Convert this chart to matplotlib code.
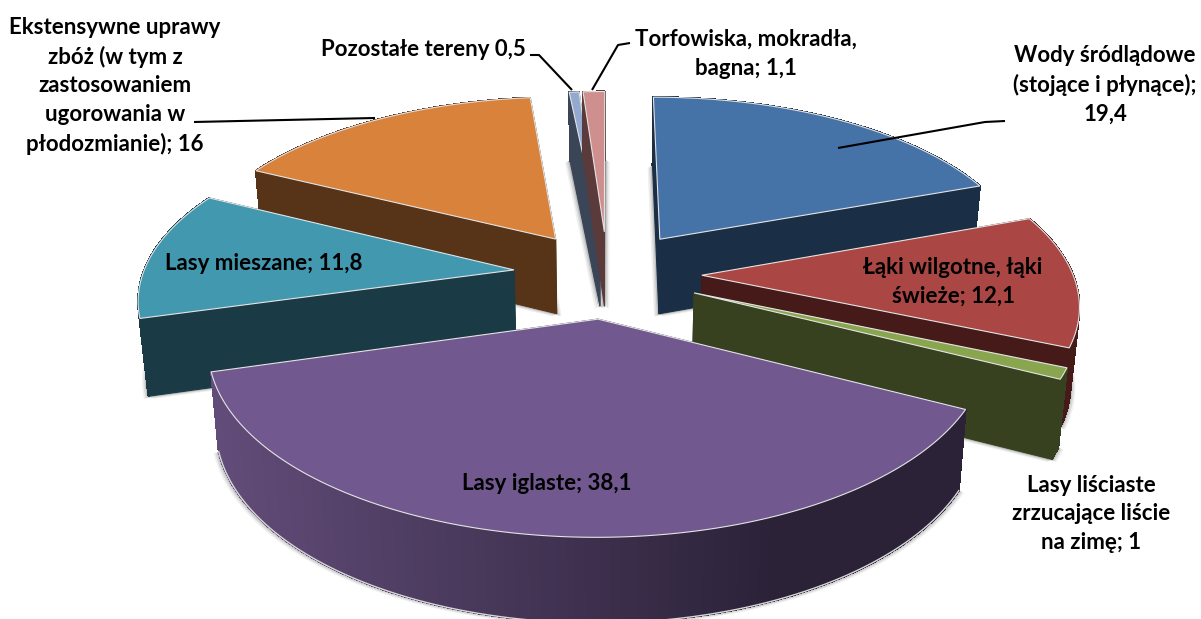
import matplotlib
matplotlib.use("Agg")
import matplotlib.pyplot as plt
import numpy as np
from matplotlib.colors import to_rgb
from matplotlib.patches import Polygon

plt.rcParams["font.family"] = ["Lato", "DejaVu Sans"]

# data, clockwise from 12 o'clock
names = ["Wody", "Laki", "Lisciaste", "Iglaste", "Mieszane", "Zboza", "Pozostale", "Torfowiska"]
values = [19.4, 12.1, 1.0, 38.1, 11.8, 16.0, 0.5, 1.1]
top_colors = ["#4572A7", "#AA4643", "#89A54E", "#71588F", "#4198AF", "#D9823C", "#93A9CF", "#CE8F8E"]
wall_colors = ["#1A2E46", "#451A18", "#374120", "#2B2238", "#1A3B46", "#573318", "#3A4558", "#5A3A3A"]
draw_order = [6, 7, 0, 5, 1, 4, 2, 3]

labels = ["Wody śródlądowe\n(stojące i płynące);\n19,4", "Łąki wilgotne, łąki\nświeże; 12,1",
          "Lasy liściaste\nzrzucające liście\nna zimę; 1", "Lasy iglaste; 38,1", "Lasy mieszane; 11,8",
          "Ekstensywne uprawy\nzbóż (w tym z\nzastosowaniem\nugorowania w\npłodozmianie); 16",
          "Pozostałe tereny 0,5", "Torfowiska, mokradła,\nbagna; 1,1"]
label_xy = [(1105, 85), (953, 282), (1091, 514), (547, 484), (264, 263), (115, 86), (423, 49), (746, 54)]
leaders = [[(1005, 121), (985, 122), (838, 148)], [(194, 122), (375, 118)],
           [(530, 55), (539, 55), (572, 90)], [(630, 43), (618, 45), (592, 90)]]

# pie projection
CX, CY = 607.5, 274
A, B, PERSP = 371, 172, 0.145
EXPLODE = 0.254
DEPTH, DEPTH_P, BOT_SHRINK = 76, 0.09, 0.981


def project(gx, gy, bottom=False):
    w = 1 + PERSP * gy
    sx = A * gx / w
    sy = -B * gy / w
    if bottom:
        return CX + sx * BOT_SHRINK, CY + sy + DEPTH / (1 + DEPTH_P * gy)
    return CX + sx, CY + sy


def slice_geom(start, end):
    mid = (start + end) / 2
    ox, oy = EXPLODE * np.sin(mid), EXPLODE * np.cos(mid)
    th = np.linspace(start, end, max(int((end - start) * 120), 6))
    return ox, oy, ox + np.sin(th), oy + np.cos(th)


def wall_shade(i, x):
    if names[i] != "Iglaste":
        return wall_colors[i]
    # purple rim darkens left to right
    t = np.clip((x - 215) / 560, 0, 1)
    c0, c1 = np.array(to_rgb("#624C79")), np.array(to_rgb(wall_colors[i]))
    return tuple(c0 + (c1 - c0) * t)


fig = plt.figure(figsize=(12.01, 6.19), dpi=100)
ax = fig.add_axes([0, 0, 1, 1])
ax.set_xlim(0, 1201)
ax.set_ylim(619, 0)
ax.axis("off")

edges = np.cumsum([0] + values) / sum(values) * 2 * np.pi
geoms = [slice_geom(edges[i], edges[i + 1]) for i in range(len(values))]

# soft shadow of the base on the paper, behind everything
for off, grey in [(4.5, "#EFEFEF"), (3, "#DADADA"), (1.5, "#BDBDBD")]:
    for ox, oy, gx, gy in geoms:
        bx, by = project(np.r_[ox, gx], np.r_[oy, gy], bottom=True)
        for dx in (-off, off):
            ax.add_patch(Polygon(np.c_[bx + dx, by + off * 0.5], fc=grey, ec=grey, lw=0.5, zorder=1))

z = 2
for i in draw_order:
    ox, oy, gx, gy = geoms[i]
    ax0, ay0 = project(ox, oy)
    bx0, by0 = project(ox, oy, bottom=True)
    tx, ty = project(gx, gy)
    bx, by = project(gx, gy, bottom=True)
    walls = [(-(oy + gy[0]) / 2, [(ax0, ay0), (tx[0], ty[0]), (bx[0], by[0]), (bx0, by0)], wall_colors[i], True),
             (-(oy + gy[-1]) / 2, [(ax0, ay0), (tx[-1], ty[-1]), (bx[-1], by[-1]), (bx0, by0)], wall_colors[i], True)]
    for k in range(len(gx) - 1):
        quad = [(tx[k], ty[k]), (tx[k + 1], ty[k + 1]), (bx[k + 1], by[k + 1]), (bx[k], by[k])]
        walls.append((-(gy[k] + gy[k + 1]) / 2, quad, wall_shade(i, (tx[k] + tx[k + 1]) / 2), False))
    # far faces first
    for _, quad, col, smooth in sorted(walls, key=lambda w: w[0]):
        ax.add_patch(Polygon(quad, fc=col, ec=col, lw=0.8, antialiased=smooth, zorder=z))
    if names[i] == "Iglaste":  # light rim under the big slice
        ax.plot(bx, by, color="#D8D8D8", lw=1.0, zorder=z)
    ax.add_patch(Polygon(np.r_[[(ax0, ay0)], np.c_[tx, ty]], fc=top_colors[i], ec="#E4E4E4", lw=0.8, zorder=z))
    z += 1

for pts in leaders:
    xs, ys = zip(*pts)
    ax.plot(xs, ys, color="black", lw=1.5, zorder=z, solid_capstyle="butt")

for (x, y), txt in zip(label_xy, labels):
    ax.text(x, y, txt, ha="center", va="center", fontsize=16.0, fontweight="bold", color="black",
            linespacing=1.45, zorder=z + 1)

fig.savefig("out.png", dpi=100, facecolor="white")
